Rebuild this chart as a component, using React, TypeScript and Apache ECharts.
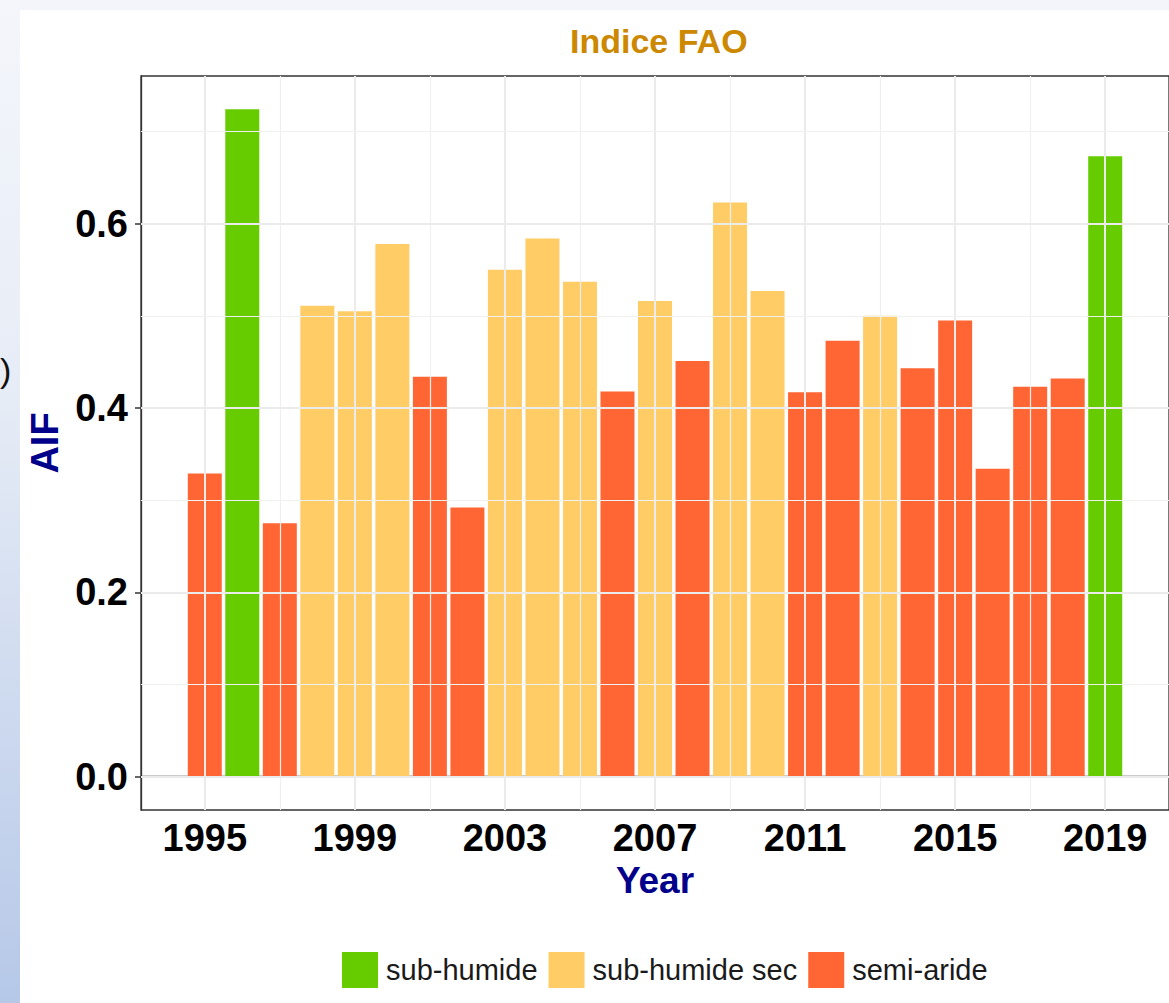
import React, { useEffect, useRef } from "react";
import * as echarts from "echarts";

const years = [1995, 1996, 1997, 1998, 1999, 2000, 2001, 2002, 2003, 2004, 2005, 2006, 2007, 2008, 2009, 2010, 2011, 2012, 2013, 2014, 2015, 2016, 2017, 2018, 2019];
const aifValues = [0.329, 0.724, 0.275, 0.511, 0.505, 0.578, 0.434, 0.292, 0.550, 0.584, 0.537, 0.418, 0.516, 0.451, 0.623, 0.527, 0.417, 0.473, 0.500, 0.443, 0.495, 0.334, 0.423, 0.432, 0.673];
const climateClass = [
  "semi-aride", "sub-humide", "semi-aride", "sub-humide sec", "sub-humide sec", "sub-humide sec",
  "semi-aride", "semi-aride", "sub-humide sec", "sub-humide sec", "sub-humide sec", "semi-aride",
  "sub-humide sec", "semi-aride", "sub-humide sec", "sub-humide sec", "semi-aride", "semi-aride",
  "sub-humide sec", "semi-aride", "semi-aride", "semi-aride", "semi-aride", "semi-aride", "sub-humide",
];
const classNames = ["sub-humide", "sub-humide sec", "semi-aride"];
const classColors = ["#66CC00", "#FFCC66", "#FF6633"];
const xTickLabels = [1995, 1999, 2003, 2007, 2011, 2015, 2019];
const xMinorGrid = [1997, 2001, 2005, 2009, 2013, 2017];
const yTickLabels = [0, 0.2, 0.4, 0.6];
const yMinorGrid = [0.1, 0.3, 0.5, 0.7];

const FONT = "'Liberation Sans', Arial, sans-serif";

export default function App() {
  const ref = useRef<HTMLDivElement>(null);

  useEffect(() => {
    if (!ref.current) return;
    const chart = echarts.init(ref.current, undefined, { renderer: "svg" });

    const barSeries = classNames.map((name, ci) => ({
      name,
      type: "bar",
      z: 3,
      barWidth: 34,
      barGap: "-100%",
      itemStyle: { color: classColors[ci] },
      data: years
        .map((y, i) => (climateClass[i] === name ? [y, aifValues[i]] : null))
        .filter((d) => d !== null),
    }));

    const major = { color: "#EBEBEB", width: 2, type: "solid" };
    const minor = { color: "#F0F0F0", width: 1.2, type: "solid" };

    const gridSeries = {
      name: "grid",
      type: "line",
      z: 1,
      data: [],
      silent: true,
      markLine: {
        silent: true,
        symbol: ["none", "none"],
        label: { show: false },
        emphasis: { disabled: true },
        animation: false,
        data: [
          ...xTickLabels.map((v) => ({ xAxis: v, lineStyle: major })),
          ...xMinorGrid.map((v) => ({ xAxis: v, lineStyle: minor })),
          ...yTickLabels.map((v) => ({ yAxis: v, lineStyle: major })),
          ...yMinorGrid.map((v) => ({ yAxis: v, lineStyle: minor })),
        ],
      },
    };

    chart.setOption({
      animation: false,
      backgroundColor: "transparent",
      textStyle: { fontFamily: FONT },
      title: {
        text: "Indice FAO",
        left: 565,
        top: 19,
        textStyle: { fontSize: 34, fontWeight: "bold", color: "#CC8800", fontFamily: FONT },
      },
      legend: {
        data: classNames,
        left: 337,
        top: 947,
        itemWidth: 36,
        itemHeight: 36,
        itemGap: 11,
        icon: "rect",
        textStyle: { fontSize: 29, color: "#1a1a1a", fontFamily: FONT, padding: [0, 0, 0, 3] },
        selectedMode: false,
      },
      grid: {
        left: 141,
        top: 76,
        right: -6,
        bottom: 193,
        show: true,
        borderColor: "#333333",
        borderWidth: 1.3,
        backgroundColor: "transparent",
      },
      xAxis: {
        type: "value",
        min: 1993.3,
        max: 2020.7,
        name: "Year",
        nameLocation: "middle",
        nameGap: 52,
        nameTextStyle: { fontSize: 37, fontWeight: "bold", color: "#00008B", fontFamily: FONT },
        axisLine: { show: true, lineStyle: { color: "#333333", width: 1.3 } },
        axisTick: { show: true, length: 6, customValues: xTickLabels, lineStyle: { color: "#333333", width: 1.5 } },
        axisLabel: {
          customValues: xTickLabels,
          formatter: (v: number) => String(v),
          fontSize: 38,
          fontWeight: "bold",
          color: "#000",
          margin: 9,
          fontFamily: FONT,
        },
        splitLine: { show: false },
      },
      yAxis: {
        type: "value",
        min: -0.0362,
        max: 0.7602,
        name: "AIF",
        nameLocation: "middle",
        nameGap: 74,
        nameRotate: 90,
        nameTextStyle: { fontSize: 38, fontWeight: "bold", color: "#00008B", fontFamily: FONT },
        axisLine: { show: true, lineStyle: { color: "#333333", width: 1.3 } },
        axisTick: { show: true, length: 6, customValues: yTickLabels, lineStyle: { color: "#333333", width: 1.5 } },
        axisLabel: {
          customValues: yTickLabels,
          formatter: (v: number) => v.toFixed(1),
          fontSize: 38,
          fontWeight: "bold",
          color: "#000",
          margin: 13,
          fontFamily: FONT,
        },
        splitLine: { show: false },
      },
      graphic: [
        {
          type: "text",
          left: 0,
          top: 353,
          style: { text: ")", fontSize: 34, fill: "#111", fontFamily: FONT },
        },
      ],
      series: [gridSeries, ...barSeries],
    });

    return () => chart.dispose();
  }, []);

  return (
    <div style={{ position: "absolute", left: 0, top: 0, width: 1169, height: 1003, background: "#F3F5FA", overflow: "hidden" }}>
      <div
        style={{
          position: "absolute",
          left: 0,
          top: 0,
          width: 20,
          height: 1003,
          background: "linear-gradient(to bottom, #F4F6FB 0%, #E6ECF6 40%, #B6C8E8 100%)",
        }}
      />
      <div style={{ position: "absolute", left: 20, top: 10, right: 0, bottom: 0, background: "#FFFFFF" }} />
      <div ref={ref} style={{ position: "absolute", left: 0, top: 0, width: 1169, height: 1003 }} />
    </div>
  );
}
